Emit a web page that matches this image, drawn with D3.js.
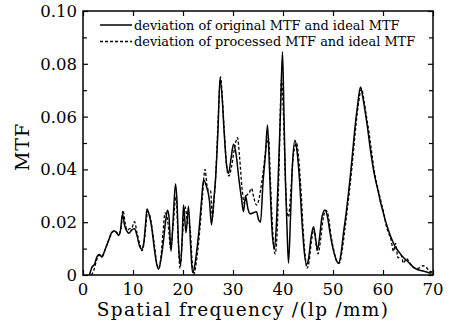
<!DOCTYPE html>
<html>
<head>
<meta charset="utf-8">
<script src="https://cdn.jsdelivr.net/npm/d3@7"></script>
<style>
  body { margin: 0; background: #fff; }
  svg text { font-family: "DejaVu Serif", serif; fill: #000; }
</style>
</head>
<body>
<div id="chart"></div>
<script>
// Spatial frequency (lp/mm) and MTF deviation, original vs processed
const originalFreq = [1.3, 1.8, 2.3, 2.8, 3.3, 3.8, 4.3, 4.8, 5.3, 5.8, 6.3, 6.8, 7.1, 7.5, 7.9, 8.3, 8.8, 9.2, 9.7, 10.3,
  10.8, 11.3, 11.7, 12.1, 12.5, 12.8, 13.2, 13.7, 14.2, 14.7, 15.1, 15.6, 16.1, 16.5, 16.9, 17.2, 17.6, 18.0, 18.5, 18.8,
  19.1, 19.5, 19.8, 20.1, 20.6, 21.1, 21.5, 21.9, 22.3, 22.8, 23.2, 23.7, 24.1, 24.7, 25.3, 25.7, 26.1, 26.5, 27.0, 27.4,
  27.8, 28.2, 28.7, 29.1, 29.6, 30.1, 30.6, 31.2, 31.7, 32.1, 32.5, 33.0, 33.4, 34.0, 34.7, 35.1, 35.5, 36.0, 36.5, 36.9,
  37.3, 37.6, 37.9, 38.3, 38.7, 39.1, 39.5, 39.9, 40.2, 40.5, 40.8, 41.1, 41.5, 41.9, 42.4, 42.8, 43.3, 43.8, 44.3, 44.7,
  45.1, 45.6, 46.1, 46.5, 46.9, 47.3, 47.8, 48.4, 48.9, 49.4, 50.0, 50.6, 51.1, 51.6, 52.1, 52.6, 53.1, 53.6, 54.0, 54.4,
  54.9, 55.5, 56.0, 56.5, 57.0, 57.4, 58.0, 58.5, 59.0, 59.4, 60.0, 60.5, 61.0, 61.4, 62.0, 62.5, 63.0, 63.4, 64.0, 65.0,
  66.4, 68.0, 69.7];
const originalMtf = [0, 0.003, 0.004, 0.007, 0.0078, 0.0068, 0.009, 0.0115, 0.014, 0.0163, 0.0167, 0.0158, 0.015, 0.017, 0.023, 0.019, 0.0165, 0.0158, 0.017, 0.0175,
  0.015, 0.011, 0.0098, 0.0115, 0.019, 0.025, 0.023, 0.0185, 0.011, 0.0045, 0.0022, 0.006, 0.013, 0.02, 0.0245, 0.022, 0.009, 0.02, 0.0345, 0.028,
  0.012, 0.004, 0.012, 0.0265, 0.016, 0.026, 0.012, 0.001, 0.003, 0.01, 0.017, 0.028, 0.036, 0.0335, 0.028, 0.019, 0.027, 0.036, 0.055, 0.0745,
  0.068, 0.055, 0.042, 0.0385, 0.044, 0.0495, 0.046, 0.036, 0.029, 0.024, 0.03, 0.025, 0.0232, 0.0235, 0.024, 0.021, 0.02, 0.035, 0.046, 0.0568,
  0.04, 0.025, 0.0145, 0.01, 0.02, 0.04, 0.062, 0.0846, 0.06, 0.035, 0.018, 0.0045, 0.022, 0.042, 0.051, 0.047, 0.036, 0.02, 0.008, 0.004,
  0.006, 0.014, 0.0183, 0.014, 0.0095, 0.014, 0.022, 0.0246, 0.022, 0.016, 0.01, 0.006, 0.0044, 0.008, 0.016, 0.023, 0.031, 0.04, 0.048, 0.056,
  0.064, 0.0712, 0.067, 0.061, 0.0545, 0.0486, 0.041, 0.036, 0.032, 0.0284, 0.024, 0.0205, 0.0175, 0.0152, 0.0125, 0.0105, 0.0092, 0.0082, 0.0068, 0.005,
  0.0025, 0.0015, 0.0006];

const processedFreq = [1.7, 2.2, 2.7, 3.2, 3.7, 4.3, 4.8, 5.3, 5.8, 6.3, 6.8, 7.2, 7.6, 8.0, 8.4, 8.8, 9.3, 9.8, 10.3, 10.8,
  11.3, 11.8, 12.2, 12.6, 12.9, 13.3, 13.8, 14.3, 14.8, 15.2, 15.6, 16.0, 16.4, 16.8, 17.2, 17.5, 18.0, 18.6, 19.0, 19.4,
  19.9, 20.4, 20.9, 21.4, 21.8, 22.1, 22.6, 23.0, 23.4, 23.9, 24.4, 24.8, 25.1, 25.5, 25.9, 26.2, 26.6, 27.1, 27.5, 27.9,
  28.3, 28.8, 29.2, 29.7, 30.3, 30.9, 31.3, 31.8, 32.3, 32.7, 33.2, 33.7, 34.2, 34.7, 35.1, 35.5, 36.1, 36.6, 37.1, 37.5,
  37.9, 38.4, 38.8, 39.2, 39.7, 40.1, 40.5, 40.8, 41.1, 41.5, 42.0, 42.7, 43.1, 43.6, 44.1, 44.5, 44.8, 45.2, 45.7, 46.2,
  46.6, 47.0, 47.5, 48.0, 48.6, 49.1, 49.6, 50.2, 50.8, 51.3, 51.8, 52.3, 52.8, 53.3, 53.8, 54.2, 54.6, 55.1, 55.7, 56.2,
  56.7, 57.2, 57.7, 58.2, 58.7, 59.2, 59.7, 60.2, 60.6, 61.1, 61.6, 62.1, 62.5, 63.0, 63.6, 64.1, 64.7, 65.2, 66.0, 67.0,
  68.0, 68.6, 69.3, 70.0];
const processedMtf = [0, 0.002, 0.0055, 0.0075, 0.007, 0.009, 0.0115, 0.014, 0.016, 0.0168, 0.016, 0.0155, 0.0175, 0.0245, 0.02, 0.017, 0.0175, 0.018, 0.0202, 0.016,
  0.012, 0.0092, 0.012, 0.019, 0.024, 0.023, 0.018, 0.011, 0.004, 0.0025, 0.007, 0.016, 0.0235, 0.022, 0.016, 0.01, 0.018, 0.03, 0.015, 0.0025,
  0.015, 0.026, 0.02, 0.018, 0.006, 0, 0.004, 0.01, 0.018, 0.03, 0.04, 0.034, 0.032, 0.032, 0.022, 0.028, 0.04, 0.062, 0.075, 0.066,
  0.053, 0.04, 0.0375, 0.041, 0.048, 0.052, 0.045, 0.033, 0.027, 0.03, 0.031, 0.0328, 0.029, 0.0265, 0.028, 0.032, 0.04, 0.048, 0.052, 0.035,
  0.018, 0.008, 0.015, 0.04, 0.074, 0.06, 0.035, 0.024, 0.022, 0.03, 0.044, 0.05, 0.045, 0.032, 0.015, 0.006, 0.0025, 0.005, 0.013, 0.0175,
  0.012, 0.008, 0.013, 0.021, 0.0245, 0.022, 0.015, 0.009, 0.005, 0.0045, 0.009, 0.016, 0.024, 0.032, 0.041, 0.049, 0.057, 0.065, 0.0705, 0.066,
  0.06, 0.054, 0.047, 0.04, 0.035, 0.031, 0.027, 0.023, 0.019, 0.016, 0.0135, 0.009, 0.012, 0.0065, 0.0075, 0.0045, 0.0063, 0.005, 0.003, 0.0025,
  0.0035, 0.003, 0.0015, 0.001];

const xTicks = [0, 10, 20, 30, 40, 50, 60, 70];
const yTicks = [0, 0.02, 0.04, 0.06, 0.08, 0.10];
const yMinorTicks = [0.01, 0.03, 0.05, 0.07, 0.09];
const legendLabels = ["deviation of original MTF and ideal MTF", "deviation of processed MTF and ideal MTF"];

const margin = { top: 11, right: 23, bottom: 47, left: 83 };
const width = 456 - margin.left - margin.right;
const height = 322 - margin.top - margin.bottom;

const svg = d3.select("#chart")
    .append("svg")
    .attr("width", 456)
    .attr("height", 322)
    .append("g")
    .attr("transform", `translate(${margin.left},${margin.top})`);

const x = d3.scaleLinear().domain([0, 70]).range([0, width]);
const y = d3.scaleLinear().domain([0, 0.1]).range([height, 0]);

// inward ticks on all four sides
function ticks(axis, values, size) {
  return axis.tickValues(values).tickSize(size).tickFormat("");
}

svg.append("g").attr("transform", `translate(0,${height})`)
    .call(ticks(d3.axisTop(x), xTicks, 5));
svg.append("g")
    .call(ticks(d3.axisBottom(x), xTicks, 5));
svg.append("g").call(ticks(d3.axisRight(y), yTicks, 5));
svg.append("g").call(ticks(d3.axisRight(y), yMinorTicks, 4));
svg.append("g").attr("transform", `translate(${width},0)`)
    .call(ticks(d3.axisLeft(y), yTicks, 5));
svg.append("g").attr("transform", `translate(${width},0)`)
    .call(ticks(d3.axisLeft(y), yMinorTicks, 4));
svg.selectAll(".domain").remove();
svg.selectAll(".tick line").attr("stroke", "#000").attr("stroke-width", 1.2);

// tick labels
svg.append("g").selectAll("text")
    .data(xTicks)
    .join("text")
    .attr("x", d => x(d))
    .attr("y", height + 19.5)
    .attr("text-anchor", "middle")
    .attr("font-size", 16.5)
    .text(d => d);

svg.append("g").selectAll("text")
    .data(yTicks)
    .join("text")
    .attr("x", -6)
    .attr("y", d => y(d) + 6)
    .attr("text-anchor", "end")
    .attr("font-size", 16.5)
    .text(d => d === 0 ? "0" : d.toFixed(2));

// axis titles
svg.append("text")
    .attr("x", width / 2 - 15)
    .attr("y", height + 40.5)
    .attr("text-anchor", "middle")
    .attr("font-size", 18.5)
    .attr("letter-spacing", 1.3)
    .text("Spatial frequency /(lp /mm)");

svg.append("text")
    .attr("transform", `translate(-54,${y(0.0485)}) rotate(-90)`)
    .attr("text-anchor", "middle")
    .attr("font-size", 19)
    .attr("letter-spacing", 1)
    .text("MTF");

// curves
const original = originalFreq.map((f, i) => ({ f, v: originalMtf[i] }));
const processed = processedFreq.map((f, i) => ({ f, v: processedMtf[i] }));

const line = d3.line()
    .x(d => x(d.f))
    .y(d => y(d.v))
    .curve(d3.curveMonotoneX);

svg.append("path")
    .datum(processed)
    .attr("d", line)
    .attr("fill", "none")
    .attr("stroke", "#000")
    .attr("stroke-width", 1.3)
    .attr("stroke-dasharray", "3,2");

svg.append("path")
    .datum(original)
    .attr("d", line)
    .attr("fill", "none")
    .attr("stroke", "#000")
    .attr("stroke-width", 1.5);

// frame
svg.append("rect")
    .attr("width", width)
    .attr("height", height)
    .attr("fill", "none")
    .attr("stroke", "#000")
    .attr("stroke-width", 1.5);

// legend
const legend = svg.append("g").attr("transform", "translate(17,14)");
legendLabels.forEach((label, i) => {
  const row = legend.append("g").attr("transform", `translate(0,${i * 16.5})`);
  row.append("line")
      .attr("x1", 0).attr("x2", 32)
      .attr("stroke", "#000")
      .attr("stroke-width", i === 0 ? 1.5 : 1.3)
      .attr("stroke-dasharray", i === 0 ? null : "3,2");
  row.append("text")
      .attr("x", 34)
      .attr("y", 4.5)
      .attr("font-size", 12.9)
      .text(label);
});
</script>
</body>
</html>
